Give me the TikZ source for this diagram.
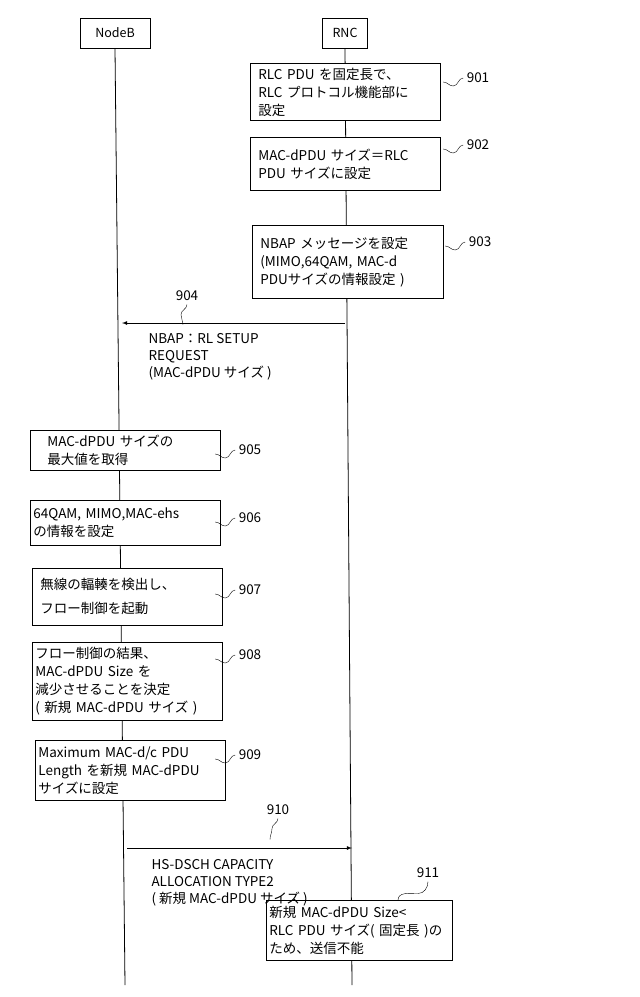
\documentclass[tikz,border=0pt]{standalone}
\usepackage{fontspec}
\setmainfont{Noto Sans CJK JP}
\begin{document}
\begin{tikzpicture}[x=1pt,y=-1pt,
  box/.style={draw,thick,inner xsep=8pt,inner ysep=3pt,align=left,anchor=north west,font=\fontsize{13.5}{18}\selectfont},
  hdr/.style={draw,thick,minimum height=30pt,font=\fontsize{12.5}{14}\selectfont},
  lbl/.style={font=\fontsize{13.5}{15}\selectfont},
  msg/.style={align=left,anchor=north west,font=\fontsize{13.5}{17}\selectfont}]
\useasboundingbox (0,0) rectangle (640,997);
\node[hdr,minimum width=70pt] (nb) at (115,33) {NodeB};
\node[hdr,minimum width=45pt] (rnc) at (345,33) {RNC};
\coordinate (nbend) at (125,985);
\coordinate (rncend) at (352,985);
\draw[thick] (nb.south) -- (nbend);
\draw[thick] (rnc.south) -- (rncend);
% RNC boxes
\node[box,fill=white,text width=174pt,minimum height=57pt] (b901) at (250,63) {RLC PDU を固定長で、\\RLC プロトコル機能部に\\設定};
\node[box,fill=white,text width=174pt,minimum height=53pt] (b902) at (250,137) {MAC-dPDU サイズ＝RLC\\PDU サイズに設定};
\node[box,fill=white,text width=175pt,minimum height=73pt] (b903) at (252,225) {NBAP メッセージを設定\\(MIMO,64QAM,  MAC-d\\PDUサイズの情報設定 )};
% NodeB boxes
\node[box,fill=white,text width=174pt,minimum height=40pt] (b905) at (30,430) {\ \ MAC-dPDU サイズの\\\ \ 最大値を取得};
\node[box,fill=white,text width=174pt,minimum height=45pt,inner xsep=3pt,text width=184pt] (b906) at (30,500) {64QAM,  MIMO,MAC-ehs\\の情報を設定};
\node[box,fill=white,text width=174pt,minimum height=57pt,font=\fontsize{13.5}{24}\selectfont] (b907) at (32,568) {無線の輻輳を検出し、\\フロー制御を起動};
\node[box,fill=white,inner xsep=3pt,text width=184pt,minimum height=78pt] (b908) at (32,642) {フロー制御の結果、\\MAC-dPDU Size を\\減少させることを決定\\( 新規 MAC-dPDU サイズ )};
\node[box,fill=white,inner xsep=3pt,text width=184pt,minimum height=60pt] (b909) at (35,740) {Maximum MAC-d/c PDU\\Length を新規 MAC-dPDU\\サイズに設定};
\node[box,fill=white,inner xsep=3pt,text width=180pt,minimum height=60pt] (b911) at (266,900) {新規  MAC-dPDU Size\textless\\RLC  PDU サイズ( 固定長 )の\\ため、送信不能};
% step labels
\foreach \t/\xx/\yy in {901/478/78,902/478/145,903/480/242,905/250/450,906/250/518,907/250/590,908/250/655,909/250/755}{
  \node[lbl] (l\t) at (\xx,\yy) {\t};
  \draw (l\t.west) to[out=180,in=0] ++(-10,8) to[out=180,in=0] ++(-10,-4);
}
% messages
\coordinate (a904s) at (345,323); \coordinate (a904e) at (122,323);
\draw[thick,-latex] (a904s) -- (a904e);
\node[lbl] (l904) at (187,296) {904};
\draw (l904.south) to[out=-90,in=90] ++(-6,10) to[out=-90,in=90] ++(2,10);
\node[msg] (t904) at (145,330) {NBAP：RL SETUP\\REQUEST\\(MAC-dPDU サイズ )};
\coordinate (a910s) at (127,848); \coordinate (a910e) at (352,848);
\draw[thick,-latex] (a910s) -- (a910e);
\node[lbl] (l910) at (278,810) {910};
\draw (l910.south) to[out=-90,in=90] ++(-6,10) to[out=-90,in=90] ++(-2,11);
\node[msg] (t910) at (148,856) {HS-DSCH CAPACITY\\ALLOCATION TYPE2\\( 新規 MAC-dPDU サイズ )};
\node[lbl] (l911) at (428,873) {911};
\coordinate (c911) at (398,900);
\draw (l911.south) to[out=-90,in=0] ++(-10,12) to[out=180,in=90] (c911);
\end{tikzpicture}
\end{document}
